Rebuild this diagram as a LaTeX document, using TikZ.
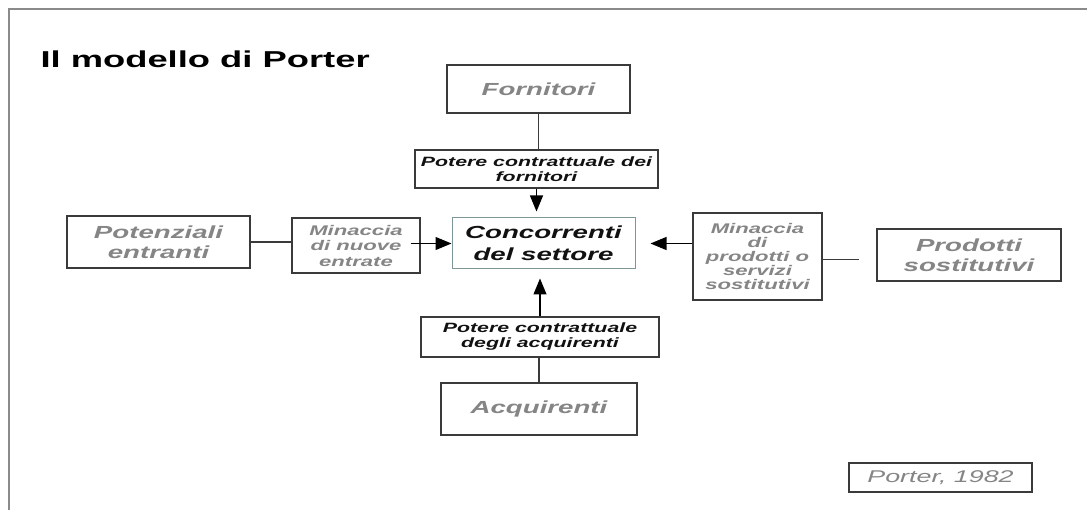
\documentclass[tikz,border=0pt]{standalone}
\usepackage{fontspec}
\setmainfont{Liberation Sans}[FakeStretch=1.58]
\usetikzlibrary{arrows.meta, positioning, calc}
\definecolor{FrameGrey}{HTML}{8A8A8A}
\definecolor{BoxLine}{HTML}{3A3A3A}
\definecolor{TextGrey}{HTML}{858585}
\definecolor{TextDark}{HTML}{111111}
\definecolor{CoreLine}{HTML}{7F9696}

\begin{document}
\begin{tikzpicture}[
        x=1pt, y=-1pt,
        actor/.style={draw=BoxLine, line width=1.2pt, align=center, inner sep=0pt, text=TextGrey, font=\fontsize{17.5}{20}\selectfont\bfseries\itshape},
        force/.style={actor, text=TextDark, font=\fontsize{13.5}{15}\selectfont\bfseries\itshape},
        threat/.style={actor, font=\fontsize{14}{14}\selectfont\bfseries\itshape},
        core/.style={actor, draw=CoreLine, line width=1pt, text=TextDark, font=\fontsize{17.5}{21.5}\selectfont\bfseries\itshape},
        note/.style={actor, font=\fontsize{17}{20}\selectfont\itshape},
        link/.style={draw=BoxLine, line width=1.2pt},
        arrow/.style={link, draw=black, -{Triangle[length=16pt, width=13pt]}}
      ]
        \useasboundingbox (0,0) rectangle (1087,510);
        % Frame
        \draw[FrameGrey, line width=1.5pt] (1087,9) -- (9,9) -- (9,510);
        \node[anchor=base west, font=\fontsize{23}{26}\selectfont\bfseries, text=black] (title) at (37,68) {Il modello di Porter};

        % Nodes
        \node[core, minimum width=183, minimum height=51] (concorrenti) at (543.5,243.5) {Concorrenti\\del settore};
        \node[actor, minimum width=183, minimum height=48] (fornitori) at (538.5,89) {Fornitori};
        \node[force, minimum width=243, minimum height=38] (potforn) at (536.5,169) {Potere contrattuale dei\\fornitori};
        \node[force, minimum width=238, minimum height=40] (potacq) at (540,337) {Potere contrattuale\\degli acquirenti};
        \node[actor, minimum width=196, minimum height=52] (acquirenti) at (539,409) {Acquirenti};
        \node[actor, minimum width=183, minimum height=52] (potenziali) at (158.5,242) {Potenziali\\entranti};
        \node[threat, font=\fontsize{14}{15.5}\selectfont\bfseries\itshape, minimum width=128, minimum height=55] (minnuove) at (356,245.5) {Minaccia\\di nuove\\entrate};
        \node[threat, minimum width=129, minimum height=87] (minprod) at (757.5,256.5) {Minaccia\\di\\prodotti o\\servizi\\sostitutivi};
        \node[actor, minimum width=184, minimum height=52] (prodotti) at (969,255) {Prodotti\\sostitutivi};
        \node[note, minimum width=183, minimum height=29] (porter) at (940.5,477.5) {Porter, 1982};

        % Edges
        \draw[link] (fornitori.south) -- (fornitori.south |- potforn.north);
        \draw[arrow, shorten >=6pt] (potforn.south) -- (potforn.south |- concorrenti.north);
        \draw[link] (acquirenti.north) -- (acquirenti.north |- potacq.south);
        \draw[arrow, shorten >=9pt] (potacq.north) -- (potacq.north |- concorrenti.south);
        \draw[link] (potenziali.east) -- (minnuove.west |- potenziali.east);
        \draw[arrow] ([xshift=-10pt]minnuove.east |- concorrenti.west) -- (concorrenti.west);
        \draw[arrow, shorten >=15pt] (minprod.west |- concorrenti.east) -- (concorrenti.east);
        \draw[link, shorten >=17pt] ([yshift=-3pt]minprod.east) -- ([yshift=-3pt]prodotti.west |- minprod.east);
      \end{tikzpicture}
\end{document}
